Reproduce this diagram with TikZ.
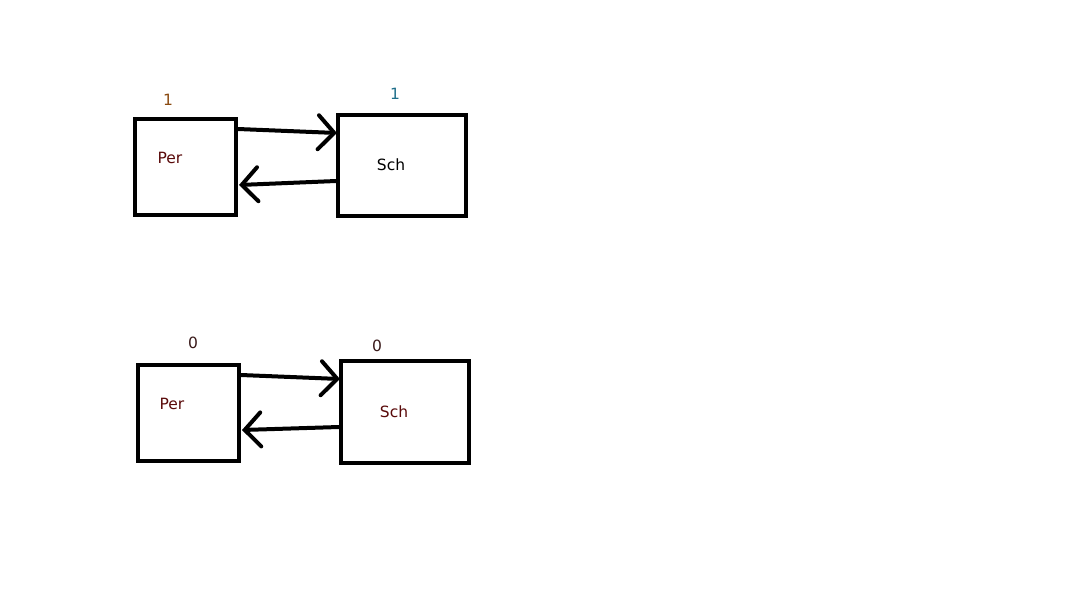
\documentclass[tikz,border=0pt]{standalone}
\usepackage{fontspec}
\setmainfont{DejaVu Sans}
\usetikzlibrary{arrows.meta,calc}
\definecolor{lblbrown}{HTML}{8A4A10}
\definecolor{lblteal}{HTML}{1F6F8B}
\definecolor{lbldark}{HTML}{3A1A1A}
\definecolor{perred}{HTML}{5A0A0A}
\begin{document}
\begin{tikzpicture}[x=1pt,y=-1pt,
  box/.style={draw=black,line width=4pt,inner sep=0pt,fill=none},
  lbl/.style={font=\fontsize{15.5}{18}\selectfont,inner sep=0pt},
  conn/.style={line width=4pt,line cap=round,-{Straight Barb[length=16pt,width=34pt,line cap=round]}}]
\useasboundingbox[fill=white] (0,0) rectangle (1073,603);
% top pair
\node[box,minimum width=101pt,minimum height=96pt] (per1) at (185.5,167) {};
\node[box,minimum width=128pt,minimum height=101pt] (sch1) at (402,165.5) {};
\node[lbl,text=perred] (per1t) at (170,158) {Per};
\node[lbl,text=black] (sch1t) at (391,165) {Sch};
\node[lbl,text=lblbrown] (n1a) at (168,100) {1};
\node[lbl,text=lblteal] (n1b) at (395,94) {1};
\draw[conn] ($(per1.north east)+(0,12)$) -- ($(sch1.north west)+(1,20)$);
\draw[conn] ($(sch1.north west)+(0,68)$) -- ($(per1.north east)+(1,68)$);
% bottom pair
\node[box,minimum width=101pt,minimum height=96pt] (per2) at (188.5,413) {};
\node[box,minimum width=128pt,minimum height=102pt] (sch2) at (405,412) {};
\node[lbl,text=perred] (per2t) at (172,404) {Per};
\node[lbl,text=perred] (sch2t) at (394,412) {Sch};
\node[lbl,text=lbldark] (n0a) at (193,343) {0};
\node[lbl,text=lbldark] (n0b) at (377,346) {0};
\draw[conn] ($(per2.north east)+(0,12)$) -- ($(sch2.north west)+(1,20)$);
\draw[conn] ($(sch2.north west)+(0,68)$) -- ($(per2.north east)+(1,67)$);
\end{tikzpicture}
\end{document}
